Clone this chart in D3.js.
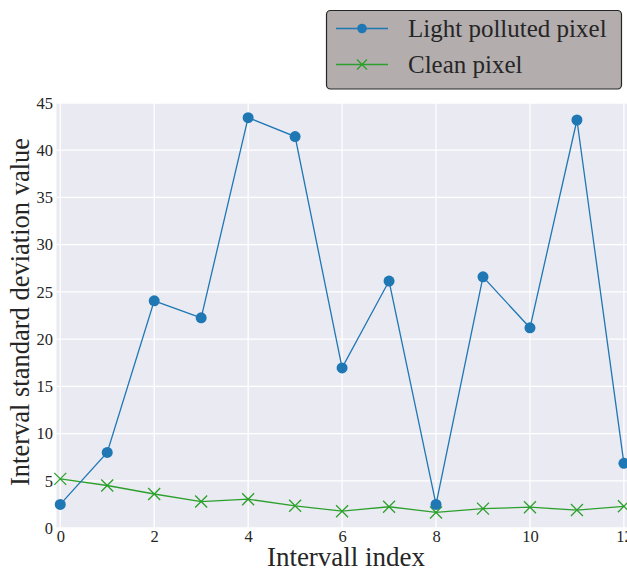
<!DOCTYPE html>
<html>
<head>
<meta charset="utf-8">
<script src="https://d3js.org/d3.v7.min.js"></script>
<style>
    body { margin: 0; background: #fff; }
    svg { display: block; font-family: "Liberation Serif", "DejaVu Serif", serif; }
    .tick text { fill: #262626; }
</style>
</head>
<body>
<script>
// interval indices and values
const intervals = [0, 1, 2, 3, 4, 5, 6, 7, 8, 9, 10, 11, 12];
const polluted = [2.5, 8.0, 24.05, 22.25, 43.45, 41.45, 16.95, 26.15, 2.5, 26.6, 21.2, 43.2, 6.85];
const clean = [5.2, 4.5, 3.6, 2.8, 3.05, 2.35, 1.78, 2.25, 1.65, 2.05, 2.2, 1.9, 2.3];
const xTicks = [0, 2, 4, 6, 8, 10, 12];
const yTicks = [0, 5, 10, 15, 20, 25, 30, 35, 40, 45];

const width = 627, height = 571;
const plot = { left: 56.5, top: 103, right: 638, bottom: 528 };
const serif = '"Liberation Serif", "DejaVu Serif", serif';

const svg = d3.select('body').append('svg')
    .attr('width', width)
    .attr('height', height);

const x = d3.scaleLinear().domain([-0.08, 12.3]).range([plot.left, plot.right]);
const y = d3.scaleLinear().domain([0, 45]).range([plot.bottom, plot.top]);

svg.append('rect')
    .attr('x', plot.left).attr('y', plot.top)
    .attr('width', plot.right - plot.left).attr('height', plot.bottom - plot.top)
    .attr('fill', '#eaeaf2');

// grid
svg.append('g').selectAll('line')
    .data(xTicks).join('line')
    .attr('x1', d => x(d)).attr('x2', d => x(d))
    .attr('y1', plot.top).attr('y2', plot.bottom)
    .attr('stroke', '#fff').attr('stroke-width', 1.3);
svg.append('g').selectAll('line')
    .data(yTicks).join('line')
    .attr('x1', plot.left).attr('x2', plot.right)
    .attr('y1', d => y(d)).attr('y2', d => y(d))
    .attr('stroke', '#fff').attr('stroke-width', 1.3);

// axes (labels only, seaborn style has no spines/ticks)
const xAxis = svg.append('g')
    .attr('transform', `translate(0,${plot.bottom})`)
    .call(d3.axisBottom(x).tickValues(xTicks).tickSize(0).tickPadding(2.5))
    .attr('font-family', serif).attr('font-size', 16.5);
xAxis.select('.domain').remove();

const yAxis = svg.append('g')
    .attr('transform', `translate(${plot.left},0)`)
    .call(d3.axisLeft(y).tickValues(yTicks).tickSize(0).tickPadding(3.5))
    .attr('font-family', serif).attr('font-size', 16.5);
yAxis.select('.domain').remove();

svg.append('text')
    .attr('x', 346).attr('y', 566)
    .attr('text-anchor', 'middle')
    .attr('font-size', 27).attr('fill', '#262626')
    .text('Intervall index');

svg.append('text')
    .attr('transform', `translate(29,312) rotate(-90)`)
    .attr('text-anchor', 'middle')
    .attr('font-size', 26.5).attr('fill', '#262626')
    .text('Interval standard deviation value');

const line = d3.line().x((d, i) => x(intervals[i])).y(d => y(d));

const g = svg.append('g');

// clean pixel series
g.append('path')
    .attr('d', line(clean))
    .attr('fill', 'none').attr('stroke', '#2ca02c').attr('stroke-width', 1.3);
const xs = 6;
g.selectAll('path.xm')
    .data(clean).join('path')
    .attr('class', 'xm')
    .attr('d', (d, i) => {
        const cx = x(intervals[i]), cy = y(d);
        return `M${cx - xs},${cy - xs}L${cx + xs},${cy + xs}M${cx - xs},${cy + xs}L${cx + xs},${cy - xs}`;
    })
    .attr('stroke', '#2ca02c').attr('stroke-width', 1.3);

// light polluted series
g.append('path')
    .attr('d', line(polluted))
    .attr('fill', 'none').attr('stroke', '#1f77b4').attr('stroke-width', 1.3);
g.selectAll('circle')
    .data(polluted).join('circle')
    .attr('cx', (d, i) => x(intervals[i]))
    .attr('cy', d => y(d))
    .attr('r', 5.5)
    .attr('fill', '#1f77b4');

// legend
const legend = svg.append('g');
legend.append('rect')
    .attr('x', 326.5).attr('y', 10.5)
    .attr('width', 295).attr('height', 78.5)
    .attr('rx', 4)
    .attr('fill', '#b3adad').attr('stroke', '#262626').attr('stroke-width', 1.2);

const entries = [
    { label: 'Light polluted pixel', color: '#1f77b4', marker: 'circle', y: 28.5 },
    { label: 'Clean pixel', color: '#2ca02c', marker: 'x', y: 64.5 }
];
entries.forEach(e => {
    legend.append('line')
        .attr('x1', 336).attr('x2', 388)
        .attr('y1', e.y).attr('y2', e.y)
        .attr('stroke', e.color).attr('stroke-width', 1.3);
    if (e.marker === 'circle') {
        legend.append('circle').attr('cx', 362).attr('cy', e.y).attr('r', 4.8).attr('fill', e.color);
    } else {
        const s = 5;
        legend.append('path')
            .attr('d', `M${362 - s},${e.y - s}L${362 + s},${e.y + s}M${362 - s},${e.y + s}L${362 + s},${e.y - s}`)
            .attr('stroke', e.color).attr('stroke-width', 1.3);
    }
    legend.append('text')
        .attr('x', 408).attr('y', e.y + 8.3)
        .attr('font-size', 25).attr('fill', '#262626')
        .text(e.label);
});
</script>
</body>
</html>
